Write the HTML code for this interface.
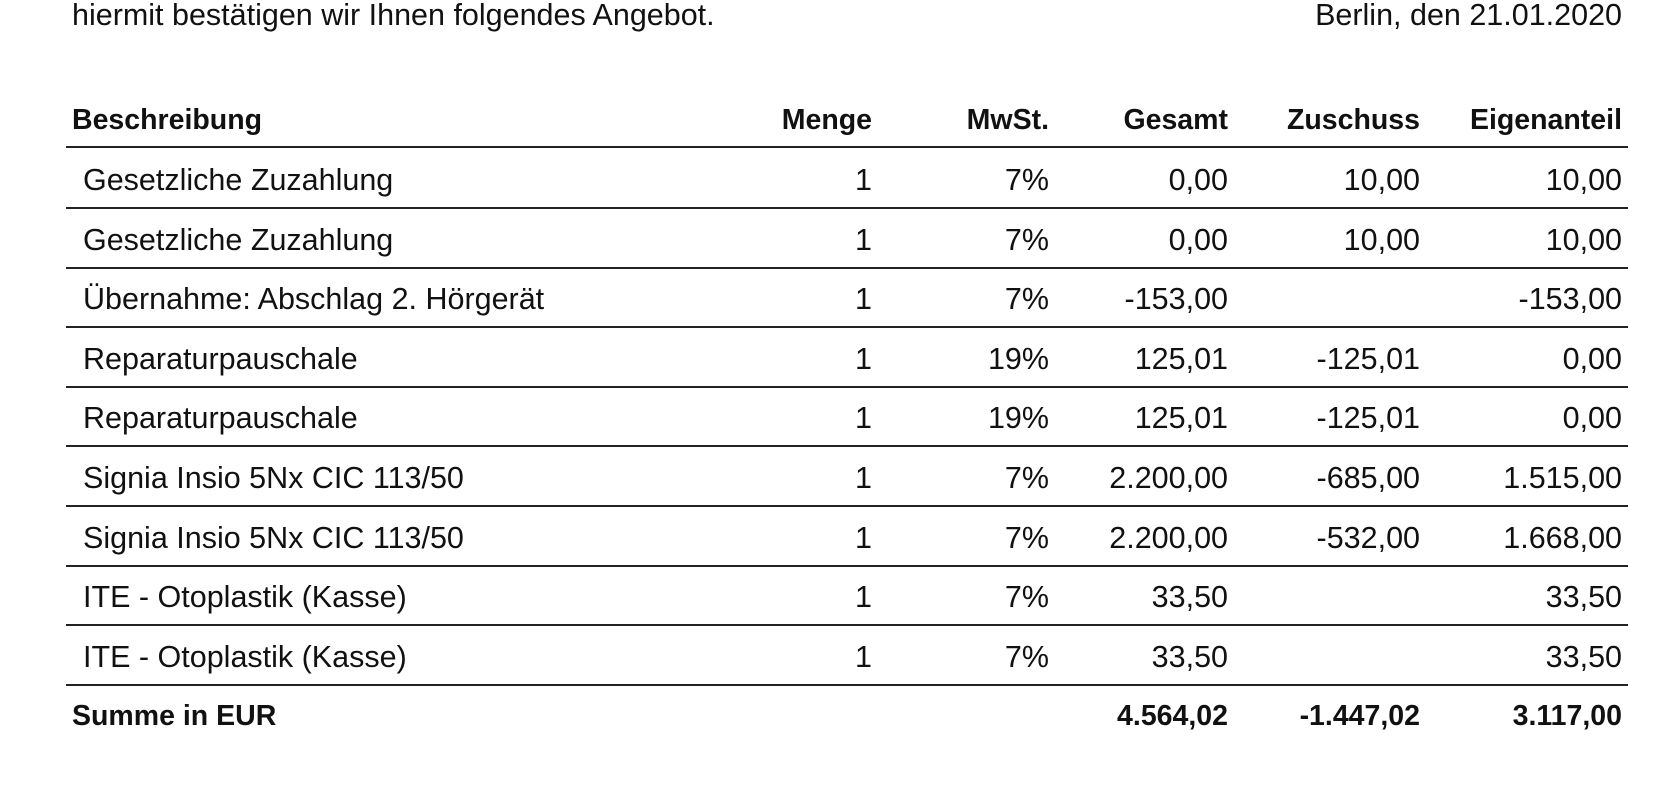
<!DOCTYPE html>
<html><head><meta charset="utf-8"><style>
body{margin:0;width:1668px;height:786px;background:#fff;position:relative;overflow:hidden;font-family:"Liberation Sans",Arial,sans-serif;color:#111}
.t{position:absolute;font-size:30.5px;line-height:34px;white-space:nowrap}
.b{font-weight:bold;font-size:28.5px}
.l{position:absolute;left:66px;width:1562px;background:#222}
</style></head><body>
<div class="t" style="left:72px;top:-2px">hiermit bestätigen wir Ihnen folgendes Angebot.</div>
<div class="t" style="right:46px;top:-2px">Berlin, den 21.01.2020</div>
<script>
const cols=[872,1049,1228,1420,1622];
function txt(s,x,y,right,bold){const d=document.createElement('div');d.className='t'+(bold?' b':'');d.textContent=s;d.style.top=(y-17)+'px';if(right){d.style.right=(1668-x)+'px'}else{d.style.left=x+'px'}document.body.appendChild(d)}
function line(y,h){const d=document.createElement('div');d.className='l';d.style.top=y+'px';d.style.height=h+'px';document.body.appendChild(d)}
txt('Beschreibung',72,120,false,true);
['Menge','MwSt.','Gesamt','Zuschuss','Eigenanteil'].forEach((s,i)=>txt(s,cols[i],120,true,true));
line(146,2);
const rows=[
['Gesetzliche Zuzahlung','1','7%','0,00','10,00','10,00'],
['Gesetzliche Zuzahlung','1','7%','0,00','10,00','10,00'],
['Übernahme: Abschlag 2. Hörgerät','1','7%','-153,00','','-153,00'],
['Reparaturpauschale','1','19%','125,01','-125,01','0,00'],
['Reparaturpauschale','1','19%','125,01','-125,01','0,00'],
['Signia Insio 5Nx CIC 113/50','1','7%','2.200,00','-685,00','1.515,00'],
['Signia Insio 5Nx CIC 113/50','1','7%','2.200,00','-532,00','1.668,00'],
['ITE - Otoplastik (Kasse)','1','7%','33,50','','33,50'],
['ITE - Otoplastik (Kasse)','1','7%','33,50','','33,50']];
rows.forEach((r,k)=>{const y=180+k*59.6;txt(r[0],83,y,false,false);for(let i=1;i<6;i++)if(r[i])txt(r[i],cols[i-1],y,true,false);line(Math.round(y+27),1.5)});
txt('Summe in EUR',72,716,false,true);
txt('4.564,02',cols[2],716,true,true);txt('-1.447,02',cols[3],716,true,true);txt('3.117,00',cols[4],716,true,true);
</script>
</body></html>
